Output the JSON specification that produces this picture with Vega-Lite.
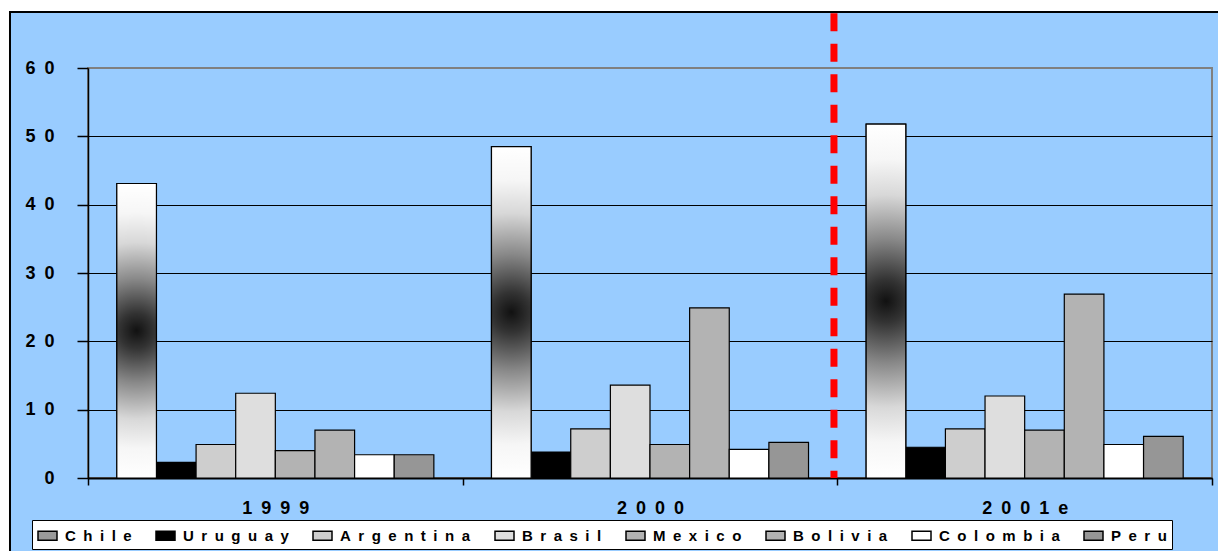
{
  "$schema": "https://vega.github.io/schema/vega-lite/v6.json",
  "width": 1124,
  "height": 410,
  "autosize": {"type": "none"},
  "padding": {"left": 88, "top": 68, "right": 6, "bottom": 73},
  "background": "#99CCFF",
  "config": {
    "view": {"fill": "#99CCFF", "stroke": "#808080", "strokeWidth": 2},
    "font": "Liberation Sans"
  },
  "datasets": {
    "bars": [
      {"year": "1999", "country": "Chile", "value": 43.1},
      {"year": "1999", "country": "Uruguay", "value": 2.3},
      {"year": "1999", "country": "Argentina", "value": 4.9},
      {"year": "1999", "country": "Brasil", "value": 12.4},
      {"year": "1999", "country": "Mexico", "value": 4.0},
      {"year": "1999", "country": "Bolivia", "value": 7.0},
      {"year": "1999", "country": "Colombia", "value": 3.4},
      {"year": "1999", "country": "Peru", "value": 3.4},
      {"year": "2000", "country": "Chile", "value": 48.5},
      {"year": "2000", "country": "Uruguay", "value": 3.8},
      {"year": "2000", "country": "Argentina", "value": 7.2},
      {"year": "2000", "country": "Brasil", "value": 13.6},
      {"year": "2000", "country": "Mexico", "value": 4.9},
      {"year": "2000", "country": "Bolivia", "value": 24.9},
      {"year": "2000", "country": "Colombia", "value": 4.2},
      {"year": "2000", "country": "Peru", "value": 5.2},
      {"year": "2001e", "country": "Chile", "value": 51.8},
      {"year": "2001e", "country": "Uruguay", "value": 4.5},
      {"year": "2001e", "country": "Argentina", "value": 7.2},
      {"year": "2001e", "country": "Brasil", "value": 12.0},
      {"year": "2001e", "country": "Mexico", "value": 7.0},
      {"year": "2001e", "country": "Bolivia", "value": 26.9},
      {"year": "2001e", "country": "Colombia", "value": 4.9},
      {"year": "2001e", "country": "Peru", "value": 6.1}
    ],
    "marker": [{"year": "2001e"}]
  },
  "resolve": {"scale": {"x": "independent"}, "axis": {"x": "independent"}},
  "layer": [
    {
      "data": {"name": "marker"},
      "mark": {"type": "rect", "fill": "white", "strokeWidth": 0},
      "encoding": {
        "x": {"datum": -0.2, "type": "quantitative", "scale": {"domain": [0, 1], "nice": false, "zero": false}, "axis": null},
        "x2": {"datum": -0.0694},
        "y": {"datum": -20, "type": "quantitative"},
        "y2": {"datum": 80}
      }
    },
    {
      "data": {"name": "marker"},
      "mark": {"type": "rect", "fill": "white", "strokeWidth": 0},
      "encoding": {
        "x": {"datum": -0.2, "type": "quantitative", "scale": {"domain": [0, 1], "nice": false, "zero": false}, "axis": null},
        "x2": {"datum": 1.2},
        "y": {"datum": 68.2, "type": "quantitative"},
        "y2": {"datum": 80}
      }
    },
    {
      "data": {"name": "marker"},
      "mark": {"type": "rect", "fill": null, "stroke": "black", "strokeWidth": 2},
      "encoding": {
        "x": {"datum": -0.0694, "type": "quantitative", "scale": {"domain": [0, 1], "nice": false, "zero": false}, "axis": null},
        "x2": {"datum": 1.2},
        "y": {"datum": -20, "type": "quantitative"},
        "y2": {"datum": 68.2}
      }
    },
    {
      "layer": [
        {
          "data": {"name": "bars"},
          "mark": {"type": "bar", "stroke": "black", "strokeWidth": 1.2},
          "encoding": {
            "x": {
              "field": "year", "type": "nominal",
              "scale": {"domain": ["1999", "2000", "2001e"], "paddingInner": 0, "paddingOuter": 0},
              "axis": {
                "title": null, "grid": false, "labelAngle": 0,
                "tickBand": "extent",
                "domainColor": "black", "domainWidth": 2,
                "tickColor": "black", "tickSize": 7, "tickWidth": 1.5,
                "labelFont": "Liberation Sans", "labelFontWeight": "bold", "labelFontSize": 18,
                "labelColor": "black", "labelPadding": 14,
                "labelExpr": "join(split(datum.label, ''), '\u2002')"
              }
            },
            "xOffset": {
              "field": "country", "type": "nominal",
              "scale": {"domain": ["Chile", "Uruguay", "Argentina", "Brasil", "Mexico", "Bolivia", "Colombia", "Peru"], "paddingInner": 0, "paddingOuter": 0.727}
            },
            "y": {
              "field": "value", "type": "quantitative",
              "scale": {"domain": [0, 60], "nice": false},
              "axis": {
                "title": null, "values": [0, 10, 20, 30, 40, 50, 60],
                "grid": true,
                "gridColor": {"condition": {"test": "datum.value === 60", "value": "#808080"}, "value": "black"},
                "gridWidth": 1.2,
                "domainColor": "black", "domainWidth": 1.5,
                "tickColor": "black", "tickSize": 11, "tickWidth": 1.5,
                "labelFont": "Liberation Sans", "labelFontWeight": "bold", "labelFontSize": 18,
                "labelColor": "black", "labelPadding": 23,
                "labelExpr": "join(split(datum.label, ''), '\u2002')"
              }
            },
            "fill": {
              "field": "country", "type": "nominal",
              "scale": {
                "domain": ["Chile", "Uruguay", "Argentina", "Brasil", "Mexico", "Bolivia", "Colombia", "Peru"],
                "range": ["#9a9a9a", "#000000", "#cecece", "#dedede", "#b3b3b3", "#b3b3b3", "#ffffff", "#969696"]
              },
              "legend": {
                "title": null, "orient": "none", "legendX": -56, "legendY": 452,
                "direction": "horizontal",
                "fillColor": "white", "strokeColor": "black", "padding": 5,
                "symbolType": "M-1,-0.47H1V0.47H-1Z", "symbolSize": 361,
                "symbolStrokeColor": "black", "symbolStrokeWidth": 1.5,
                "labelFont": "Liberation Sans", "labelFontWeight": "bold", "labelFontSize": 15,
                "labelColor": "black", "labelOffset": 7, "columnPadding": 21, "labelLimit": 400,
                "labelExpr": "join(split(datum.label, ''), '\u2002')"
              }
            }
          }
        },
        {
          "data": {"name": "bars"},
          "transform": [{"filter": "datum.country === 'Chile'"}],
          "mark": {
            "type": "bar", "stroke": "black", "strokeWidth": 1.2,
            "fill": {
              "gradient": "radial", "x1": 0.5, "y1": 0.5, "r1": 0, "x2": 0.5, "y2": 0.5, "r2": 0.5,
              "stops": [
                {"offset": 0, "color": "#111111"},
                {"offset": 0.12, "color": "#333333"},
                {"offset": 0.35, "color": "#888888"},
                {"offset": 0.6, "color": "#d8d8d8"},
                {"offset": 0.8, "color": "#f6f6f6"},
                {"offset": 1, "color": "#ffffff"}
              ]
            }
          },
          "encoding": {
            "x": {"field": "year", "type": "nominal"},
            "xOffset": {"field": "country", "type": "nominal"},
            "y": {"field": "value", "type": "quantitative"}
          }
        },
        {
          "data": {"name": "marker"},
          "mark": {"type": "rule", "color": "#FF0000", "strokeWidth": 7, "strokeDash": [18, 12.5], "strokeCap": "butt"},
          "encoding": {
            "x": {"field": "year", "type": "nominal", "bandPosition": -0.009},
            "y": {"datum": 68, "type": "quantitative"},
            "y2": {"datum": 0}
          }
        }
      ]
    }
  ]
}
